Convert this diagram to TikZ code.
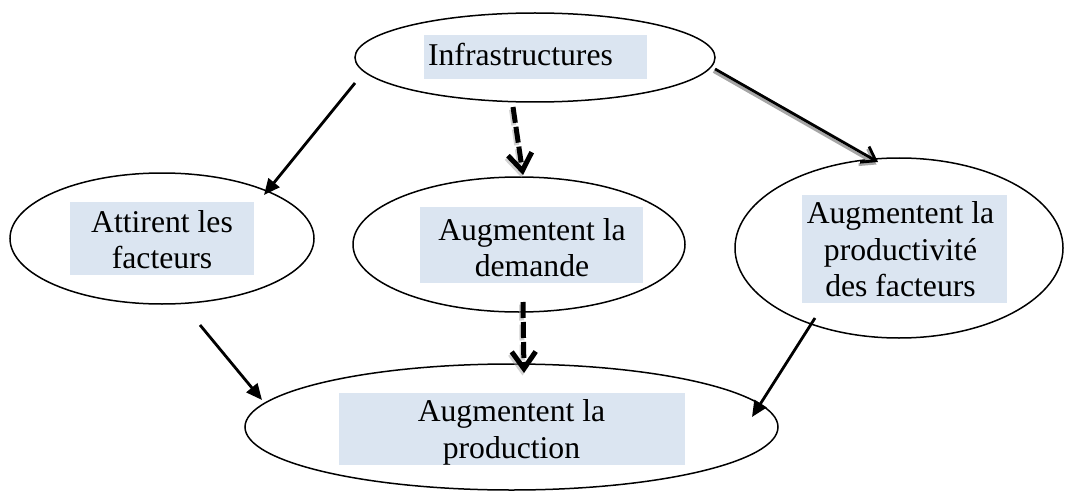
\documentclass[tikz,border=0pt]{standalone}
\usepackage{fontspec}
\setmainfont{Liberation Serif}
\usetikzlibrary{shapes.geometric,arrows.meta}
\definecolor{boxblue}{HTML}{DBE5F1}
\definecolor{shadowgray}{HTML}{A6A6A6}
\begin{document}
\begin{tikzpicture}[x=1pt,y=-1pt,
  ell/.style={draw=black, line width=1.5pt, ellipse, inner sep=0pt},
  tbox/.style={fill=boxblue, draw=none, inner sep=0pt, rectangle},
  lbl/.style={align=center, inner sep=0pt, font=\fontsize{31.7}{36.5}\selectfont},
  solidarr/.style={line width=2.8pt, -{Triangle[length=16pt,width=14pt]}},
  dasharr/.style={line width=5pt, dash pattern=on 16pt off 4pt,
    -{Straight Barb[length=17pt,width=24pt,line width=5pt]}},
  barbarr/.style={line width=2.8pt, -{Straight Barb[length=13pt,width=18pt,line width=2.8pt]}},
  shadowed/.style={draw=shadowgray, transform canvas={xshift=-1.5pt,yshift=-2.5pt}}
]
\useasboundingbox (0,0) rectangle (1068,492);

% ellipses
\node[ell, minimum width=360pt, minimum height=89pt] (infra) at (535,57.5) {};
\node[ell, minimum width=304pt, minimum height=131pt] (attir) at (162,238.5) {};
\node[ell, minimum width=332pt, minimum height=135pt] (dem) at (519,244.5) {};
\node[ell, minimum width=328pt, minimum height=180pt] (prodv) at (899,248) {};
\node[ell, minimum width=533pt, minimum height=126pt] (prod) at (511.5,427) {};

% text boxes
\node[tbox, minimum width=223pt, minimum height=44pt] (infrabox) at (535.5,57) {};
\node[tbox, minimum width=184pt, minimum height=73pt] (attirbox) at (162,238.5) {};
\node[tbox, minimum width=223pt, minimum height=76pt] (dembox) at (531.5,245) {};
\node[tbox, minimum width=205pt, minimum height=108pt] (prodvbox) at (904.5,249) {};
\node[tbox, minimum width=346pt, minimum height=72pt] (prodbox) at (512,429) {};

% texts
\node[lbl] (infratxt) at (520.5,54.5) {Infrastructures};
\node[lbl] (attirtxt) at (162,239.5) {Attirent les\\facteurs};
\node[lbl] (demtxt) at (532,247.5) {Augmentent la\\demande};
\node[lbl] (prodvtxt) at (900.5,249.5) {Augmentent la\\productivité\\des facteurs};
\node[lbl] (prodtxt) at (511.5,432.5) {Augmentent la\\production};

% arrow end points
\coordinate (a1s) at (355,83);  \coordinate (a1e) at (264,195);
\coordinate (a2s) at (513,107); \coordinate (a2e) at (523,175);
\coordinate (a3s) at (523,302); \coordinate (a3e) at (524,373);
\coordinate (a4s) at (715,69);  \coordinate (a4e) at (878,162);
\coordinate (a5s) at (200,325); \coordinate (a5e) at (262,400);
\coordinate (a6s) at (815,318); \coordinate (a6e) at (752,417);

% connectors
\draw[solidarr] (a1s) -- (a1e);
\draw[dasharr, shadowed, draw opacity=0.5] (a2s) -- (a2e);
\draw[dasharr] (a2s) -- (a2e);
\draw[dasharr, shadowed, draw opacity=0.5] (a3s) -- (a3e);
\draw[dasharr] (a3s) -- (a3e);
\draw[barbarr, shadowed] (a4s) -- (a4e);
\draw[barbarr] (a4s) -- (a4e);
\draw[solidarr] (a5s) -- (a5e);
\draw[solidarr] (a6s) -- (a6e);
\end{tikzpicture}
\end{document}
